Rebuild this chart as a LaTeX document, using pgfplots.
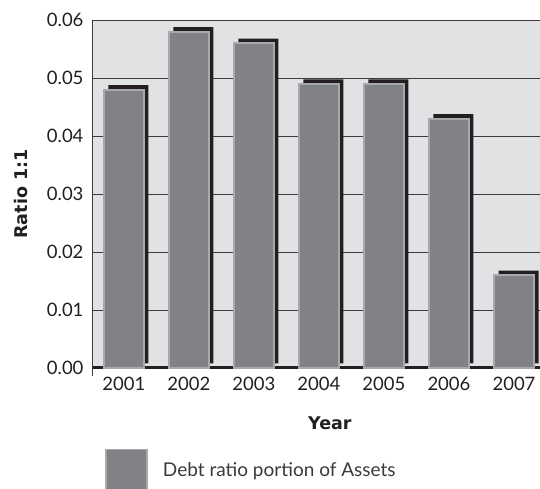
\documentclass[border=0pt]{standalone}
\usepackage{fontspec}
\setmainfont{Lato}
\newfontfamily\labelfont{DejaVu Sans}
\usepackage{pgfplots}
\pgfplotsset{compat=1.18}

\definecolor{barfill}{HTML}{808285}
\definecolor{baredge}{HTML}{A7A9AC}
\definecolor{plotbg}{HTML}{E1E2E4}
\definecolor{ink}{HTML}{231F20}
\definecolor{gridc}{HTML}{3C3C3E}
\definecolor{legtext}{HTML}{3A3A3C}

% Debt ratio by year
\pgfplotstableread{
x  year ratio
0  2001 0.048
1  2002 0.058
2  2003 0.056
3  2004 0.049
4  2005 0.049
5  2006 0.043
6  2007 0.016
}\debtdata

\begin{document}
\begin{tikzpicture}[x=1pt,y=1pt]
\useasboundingbox (0,0) rectangle (540,489);
\begin{axis}[
  at={(92pt,121pt)}, anchor=south west,
  width=448pt, height=348pt, scale only axis,
  xmin=-0.49, xmax=6.4, ymin=0, ymax=0.06,
  clip=false,
  axis background/.style={fill=plotbg},
  axis line style={draw=none},
  major tick length=0pt,
  xtick={0,1,2,3,4,5,6},
  xticklabels={2001,2002,2003,2004,2005,2006,2007},
  ytick={0,0.01,0.02,0.03,0.04,0.05,0.06},
  scaled y ticks=false,
  ymajorgrids,
  grid style={gridc, line width=0.9pt},
  extra y ticks={0},
  extra y tick labels={},
  extra y tick style={grid style={ink, line width=3pt}},
  /pgf/number format/assume math mode=true,
  y tick label style={/pgf/number format/fixed,
    /pgf/number format/fixed zerofill,
    /pgf/number format/precision=2, xshift=-5pt},
  x tick label style={yshift=-6pt},
  tick label style={font=\fontsize{18.5}{22}\selectfont, text=ink},
  xlabel={Year},
  ylabel={Ratio 1:1},
  label style={font=\labelfont\bfseries\fontsize{17.5}{21}\selectfont, text=ink},
  xlabel style={at={(axis description cs:0.531,-0.158)}, anchor=center},
  ylabel style={at={(axis description cs:-0.158,0.5)}, anchor=center},
  legend style={at={(axis description cs:0.029,-0.293)}, anchor=west,
    draw=none, fill=none, inner sep=0pt,
    font=\rmfamily\fontsize{19}{22}\selectfont, text=legtext,
    /tikz/every odd column/.append style={column sep=13pt}},
  legend cell align=left,
]
% drop shadows behind the bars
\addplot[ybar, bar width=40pt, bar shift=4.5pt, yshift=4.5pt,
  fill=ink, draw=none, forget plot] table[x=x, y=ratio] {\debtdata};
% the bars
\addplot[ybar, bar width=40pt, bar shift=0pt,
  fill=barfill, draw=baredge, line width=1.8pt,
  legend image code/.code={
    \draw[fill=barfill, draw=baredge, line width=1.8pt]
      (0pt,-20.5pt) rectangle (41pt,20.5pt);}]
  table[x=x, y=ratio] {\debtdata};
\addlegendentry{Debt ratio portion of Assets}
% left axis line, running a little below zero
\draw[gridc, line width=1pt] (rel axis cs:0,1) -- ([yshift=-8pt]rel axis cs:0,0);
\end{axis}
\end{tikzpicture}
\end{document}
